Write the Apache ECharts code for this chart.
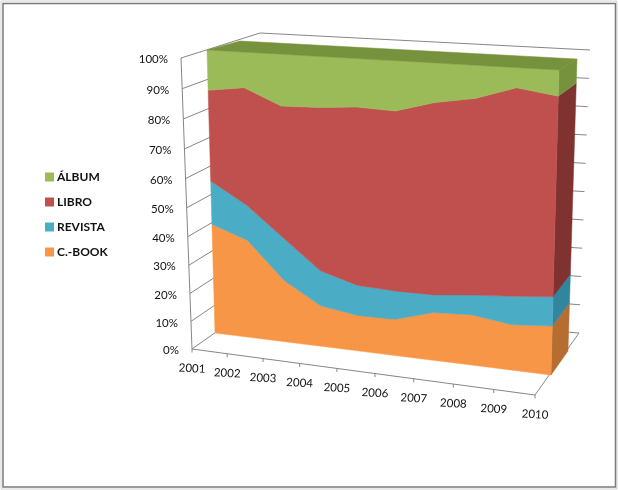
<!DOCTYPE html>
<html>
<head>
<meta charset="utf-8">
<style>html,body{margin:0;padding:0;background:#fff}#c{width:618px;height:490px}</style>
<script src="https://cdn.jsdelivr.net/npm/echarts@6/dist/echarts.min.js"></script>
</head>
<body>
<div id="c"></div>
<script>
// ---- data ----
var years = ['2001','2002','2003','2004','2005','2006','2007','2008','2009','2010'];
var yTicks = [0,10,20,30,40,50,60,70,80,90,100];
var cbook   = [39.5,35.0,22.1,14.5,12.6,12.8,16.7,17.4,15.6,16.7];
var revista = [15.3,12.4,15.0,12.4,10.6, 9.9, 6.1, 6.8, 9.7, 9.9];
var libro   = [31.5,40.6,45.5,56.1,60.8,60.9,64.4,65.2,68.3,65.2];
var album   = [13.7,12.0,17.4,17.0,16.0,16.4,12.8,10.6, 6.4, 8.2];

// ---- 3-D view: four corners of each plane as seen in the picture ----
function homography(tl,tr,br,bl){
  var dx1=tr[0]-br[0],dx2=bl[0]-br[0],sx=tl[0]-tr[0]+br[0]-bl[0];
  var dy1=tr[1]-br[1],dy2=bl[1]-br[1],sy=tl[1]-tr[1]+br[1]-bl[1];
  var d=dx1*dy2-dx2*dy1;
  var g=(sx*dy2-dx2*sy)/d,h=(dx1*sy-sx*dy1)/d;
  var a=tr[0]-tl[0]+g*tr[0],b=bl[0]-tl[0]+h*bl[0],c=tl[0];
  var e=tr[1]-tl[1]+g*tr[1],f=bl[1]-tl[1]+h*bl[1],k=tl[1];
  return function(u,v){ // u: along categories, v: 0 bottom .. 1 top
    var t=1-v,w=g*u+h*t+1;
    return [(a*u+b*t+c)/w,(e*u+f*t+k)/w];
  };
}
var facePlane = homography([207,50],[559,70],[551,375],[215,333]);
var depthPlane= homography([240,41],[577,59],[568,351],[236,318]);
var axisPlane = homography([181,58],[546,78],[535,395],[192,349]);
var wallPlane = homography([260,33],[590,50],[579,333],[250,308]);

var FONT='Lato, Carlito, "Open Sans", sans-serif';
var GRID='#868686';

function unit(cs,p){return [(p[0]-cs.x)/cs.width,1-(p[1]-cs.y)/cs.height];}
function line(a,b,w){return {type:'line',shape:{x1:a[0],y1:a[1],x2:b[0],y2:b[1]},style:{stroke:GRID,lineWidth:w||1},silent:true};}

// stacked layers, bottom to top
var layers=[
  {name:'C.-BOOK',values:cbook,color:'#F79646',side:'#B66D31'},
  {name:'REVISTA',values:revista,color:'#4BACC6',side:'#31859C'},
  {name:'LIBRO',values:libro,color:'#C0504D',side:'#7F3230'},
  {name:'ÁLBUM',values:album,color:'#9BBB59',side:'#76923C'}
];
function cumulative(k,i){var s=0;for(var j=0;j<=k;j++)s+=layers[j].values[i];return s;}

function poly(points,color){
  return {type:'polygon',shape:{points:points},style:{fill:color,stroke:color,lineWidth:0.5},silent:true};
}

function renderLayer(k){
  return function(params,api){
    if(params.dataIndex!==0) return null;
    var cs=params.coordSys,n=years.length,top=[],bot=[];
    for(var i=0;i<n;i++){
      var t=unit(cs,api.coord([i,cumulative(k,i)]));
      var b=unit(cs,api.coord([i,k?cumulative(k-1,i):0]));
      top.push(facePlane(t[0],t[1]));
      bot.unshift(facePlane(b[0],b[1]));
    }
    var e1=unit(cs,api.coord([n-1,cumulative(k,n-1)]));
    var e0=unit(cs,api.coord([n-1,k?cumulative(k-1,n-1):0]));
    var children=[
      poly([facePlane(1,e0[1]),facePlane(1,e1[1]),depthPlane(1,e1[1]),depthPlane(1,e0[1])],layers[k].side),
      poly(top.concat(bot),layers[k].color)
    ];
    if(k===layers.length-1){
      children.push(poly([facePlane(0,1),facePlane(1,1),depthPlane(1,1),depthPlane(0,1)],layers[k].side));
    }
    return {type:'group',children:children};
  };
}

function renderFrame(params,api){
  if(params.dataIndex!==0) return null;
  var cs=params.coordSys,ch=[];
  yTicks.forEach(function(y){
    var v=unit(cs,api.coord([0,y]))[1];
    var a=axisPlane(0,v);
    ch.push(line(a,wallPlane(0,v)));
    ch.push(line(wallPlane(0,v),wallPlane(1,v)));
    ch.push({type:'text',x:a[0]-13,y:a[1]+1.5,silent:true,
      style:{text:y+'%',align:'right',verticalAlign:'middle',font:'11.5px '+FONT,fill:'#111'}});
  });
  ch.push(line(axisPlane(0,1),axisPlane(0,0)));
  ch.push(line(axisPlane(0,0),axisPlane(1,0)));
  ch.push(line(axisPlane(1,0),wallPlane(1,0)));
  years.forEach(function(lbl,i){
    var u=unit(cs,api.coord([i,0]))[0];
    var a=axisPlane(u,0);
    ch.push(line([a[0],a[1]],[a[0],a[1]+3.5]));
    ch.push({type:'text',x:a[0],y:a[1]+19.5,rotation:-3*Math.PI/180,silent:true,
      style:{text:lbl,align:'center',verticalAlign:'middle',font:'11.5px '+FONT,fill:'#111'}});
  });
  return {type:'group',children:ch};
}

var series=[{type:'custom',name:'frame',renderItem:renderFrame,data:years.map(function(y,i){return [i,0];}),
  silent:true,z:1,clip:false,animation:false,encode:{x:0,y:1}}];
layers.forEach(function(l,k){
  series.push({type:'custom',name:l.name,renderItem:renderLayer(k),
    data:l.values.map(function(v,i){return [i,cumulative(k,i)];}),
    itemStyle:{color:l.color},silent:true,z:2+k,clip:false,animation:false,encode:{x:0,y:1}});
});

var chart=echarts.init(document.getElementById('c'),null,{renderer:'canvas'});
chart.setOption({
  animation:false,
  backgroundColor:'#fff',
  grid:{left:100,right:100,top:100,bottom:100},
  xAxis:{type:'category',data:years,boundaryGap:false,show:false},
  yAxis:{type:'value',min:0,max:100,interval:10,show:false},
  legend:{
    orient:'vertical',left:40,top:166,itemWidth:9,itemHeight:9,itemGap:13,icon:'rect',
    data:['ÁLBUM','LIBRO','REVISTA','C.-BOOK'],selectedMode:false,
    textStyle:{fontFamily:FONT,fontWeight:'bold',fontSize:12,color:'#111',padding:[0,0,0,-2]}
  },
  graphic:[
    {type:'rect',silent:true,z:-1,shape:{x:1,y:1,width:616,height:488},style:{fill:'none',stroke:'#d4d4d4',lineWidth:1}},
    {type:'rect',silent:true,z:-1,shape:{x:3,y:3.5,width:612.5,height:483.5},style:{fill:'none',stroke:'#7a7a7a',lineWidth:1.5}}
  ],
  series:series
});
</script>
</body>
</html>
